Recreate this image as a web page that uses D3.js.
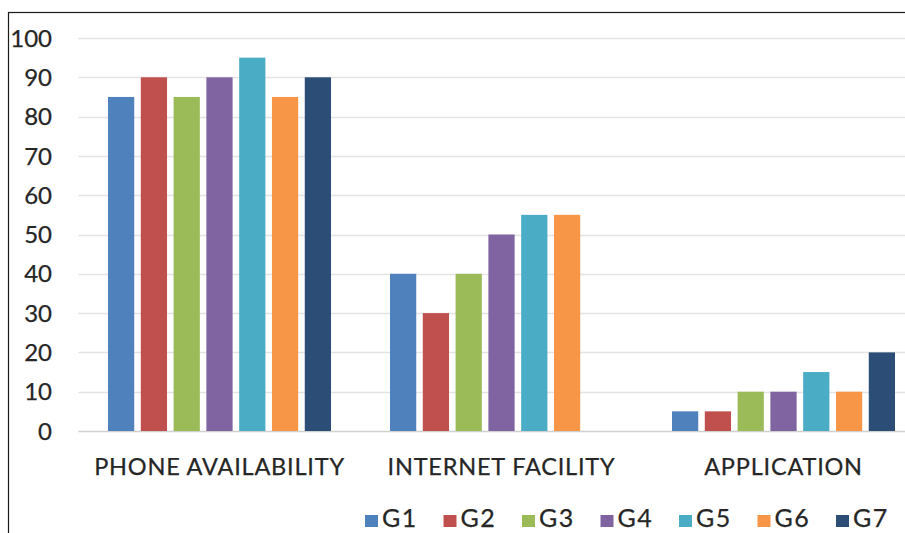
<!DOCTYPE html>
<html>
<head>
<meta charset="utf-8">
<script src="https://cdn.jsdelivr.net/npm/d3@7/dist/d3.min.js"></script>
<style>
  html, body { margin: 0; padding: 0; background: #fff; }
  svg { display: block; }
  text { font-family: Lato, "Open Sans", sans-serif; fill: #262626; stroke: #262626; stroke-width: 0.25px; }
</style>
</head>
<body>
<svg id="chart" width="905" height="533"></svg>
<script>
// Survey categories and group shares (%)
const categories = ["PHONE AVAILABILITY", "INTERNET FACILITY", "APPLICATION"];
const seriesNames = ["G1", "G2", "G3", "G4", "G5", "G6", "G7"];
const phoneAvailability = [85, 90, 85, 90, 95, 85, 90];
const internetFacility = [40, 30, 40, 50, 55, 55, null];
const application = [5, 5, 10, 10, 15, 10, 20];
const yTicks = [0, 10, 20, 30, 40, 50, 60, 70, 80, 90, 100];
const colors = ["#4F81BD", "#C0504D", "#9BBB59", "#8064A2", "#4BACC6", "#F79646", "#2C4D75"];

const valuesByCategory = [phoneAvailability, internetFacility, application];

const svg = d3.select("#chart");

// outer frame
svg.append("rect")
  .attr("x", 8.5).attr("y", 12.5)
  .attr("width", 1000).attr("height", 600)
  .attr("fill", "none").attr("stroke", "#1a1a1a").attr("stroke-width", 1.2);

const plotLeft = 78.5, plotRight = 924.5;
const y = d3.scaleLinear().domain([0, 100]).range([431, 38]);

const x0 = d3.scaleBand().domain(categories).range([plotLeft, plotRight]).padding(0);
const groupWidth = 223;
const x1 = d3.scaleBand().domain(seriesNames)
  .range([(x0.bandwidth() - groupWidth) / 2, (x0.bandwidth() + groupWidth) / 2])
  .paddingInner(0.2).paddingOuter(0);

// gridlines
svg.append("g").selectAll("line")
  .data(yTicks)
  .join("line")
  .attr("x1", plotLeft).attr("x2", 905)
  .attr("y1", d => Math.round(y(d)) + 0.5).attr("y2", d => Math.round(y(d)) + 0.5)
  .attr("stroke", d => d === 0 ? "#d0d0d0" : "#e4e4e4")
  .attr("stroke-width", 1.5);

// y tick labels
svg.append("g").selectAll("text")
  .data(yTicks)
  .join("text")
  .attr("x", 52)
  .attr("y", d => y(d))
  .attr("dy", "0.36em")
  .attr("text-anchor", "end")
  .attr("font-size", 24)
  .text(d => d);

// bars
const groups = svg.append("g").selectAll("g")
  .data(categories)
  .join("g")
  .attr("transform", c => `translate(${x0(c)},0)`);

groups.selectAll("rect")
  .data((c, i) => seriesNames.map((s, j) => ({ s, v: valuesByCategory[i][j], color: colors[j] }))
    .filter(d => d.v !== null))
  .join("rect")
  .attr("x", d => x1(d.s))
  .attr("width", x1.bandwidth())
  .attr("y", d => y(d.v))
  .attr("height", d => y(0) - y(d.v))
  .attr("fill", d => d.color);

// category labels
svg.append("g").selectAll("text")
  .data(categories)
  .join("text")
  .attr("x", c => x0(c) + x0.bandwidth() / 2)
  .attr("y", 475)
  .attr("text-anchor", "middle")
  .attr("font-size", 23.5)
  .attr("letter-spacing", "0.8px")
  .text(c => c);

// legend
const legend = svg.append("g").selectAll("g")
  .data(seriesNames)
  .join("g")
  .attr("transform", (d, i) => `translate(${365 + i * 78.5},0)`);
legend.append("rect")
  .attr("x", 0).attr("y", 515).attr("width", 13).attr("height", 12)
  .attr("fill", (d, i) => colors[i]);
legend.append("text")
  .attr("x", 17).attr("y", 527)
  .attr("font-size", 25)
  .attr("letter-spacing", "1.5px")
  .text(d => d);
</script>
</body>
</html>
